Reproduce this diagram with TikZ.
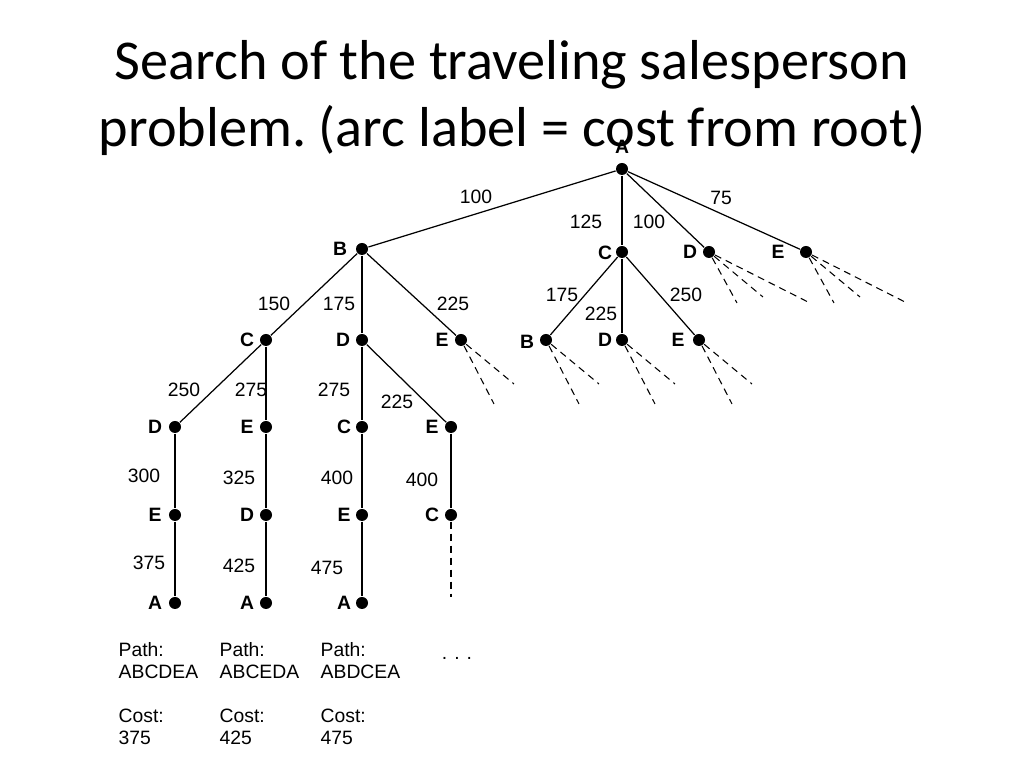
\documentclass[tikz,border=0pt]{standalone}
\usepackage{fontspec}
\setmainfont{Liberation Sans}
\newfontfamily\titlefont{Carlito}
\frenchspacing
\begin{document}
\begin{tikzpicture}[x=0.01cm,y=-0.01cm,
  dot/.style={circle,fill=black,inner sep=0pt,minimum size=0.12cm},
  lbl/.style={font=\fontsize{5.5pt}{6.5pt}\selectfont,inner sep=0pt},
  nl/.style={font=\fontsize{5.5pt}{6.5pt}\selectfont\bfseries,inner sep=0pt},
  dsh/.style={dashed,dash pattern=on 0.07cm off 0.05cm,line width=0.3pt},
  edge/.style={line width=0.35pt}]
\useasboundingbox (0,0) rectangle (1024,768);
\node[font=\titlefont\fontsize{16pt}{18pt}\selectfont] (t1) at (512,65) {Search of the traveling salesperson};
\node[font=\titlefont\fontsize{16pt}{18pt}\selectfont] (t2) at (512,130) {problem. (arc label = cost from root)};
% nodes
\node[dot] (A) at (622,169) {};
\node[dot] (B) at (362,249) {};
\node[dot] (C1) at (622,252) {};
\node[dot] (D1) at (709,252) {};
\node[dot] (E1) at (806,252) {};
\node[dot] (BC) at (266,340) {};
\node[dot] (BD) at (362,340) {};
\node[dot] (BE) at (461,340) {};
\node[dot] (CB) at (546,340) {};
\node[dot] (CD) at (622,340) {};
\node[dot] (CE) at (699,340) {};
\node[dot] (BCD) at (175,427) {};
\node[dot] (BCE) at (266,427) {};
\node[dot] (BDC) at (362,427) {};
\node[dot] (BDE) at (451,427) {};
\node[dot] (BCDE) at (175,515) {};
\node[dot] (BCED) at (266,515) {};
\node[dot] (BDCE) at (362,515) {};
\node[dot] (BDEC) at (451,515) {};
\node[dot] (A1) at (175,603) {};
\node[dot] (A2) at (266,603) {};
\node[dot] (A3) at (362,603) {};
% node labels
\node[nl] (lA) at (622,147) {A};
\node[nl] (lB) at (340,249) {B};
\node[nl] (lC1) at (605,253) {C};
\node[nl] (lD1) at (690,252) {D};
\node[nl] (lE1) at (778,252) {E};
\node[nl] (lBC) at (247,340) {C};
\node[nl] (lBD) at (343,340) {D};
\node[nl] (lBE) at (442,340) {E};
\node[nl] (lCB) at (527,342) {B};
\node[nl] (lCD) at (605,340) {D};
\node[nl] (lCE) at (678,340) {E};
\node[nl] (l3a) at (155,427) {D};
\node[nl] (l3b) at (247,427) {E};
\node[nl] (l3c) at (344,427) {C};
\node[nl] (l3d) at (432,427) {E};
\node[nl] (l4a) at (155,515) {E};
\node[nl] (l4b) at (247,515) {D};
\node[nl] (l4c) at (344,515) {E};
\node[nl] (l4d) at (432,515) {C};
\node[nl] (l5a) at (155,603) {A};
\node[nl] (l5b) at (247,603) {A};
\node[nl] (l5c) at (344,603) {A};
% edges
\draw[edge] (A) -- (B); \draw[edge] (A) -- (C1); \draw[edge] (A) -- (D1); \draw[edge] (A) -- (E1);
\draw[edge] (B) -- (BC); \draw[edge] (B) -- (BD); \draw[edge] (B) -- (BE);
\draw[edge] (C1) -- (CB); \draw[edge] (C1) -- (CD); \draw[edge] (C1) -- (CE);
\draw[edge] (BC) -- (BCD); \draw[edge] (BC) -- (BCE); \draw[edge] (BD) -- (BDC); \draw[edge] (BD) -- (BDE);
\draw[edge] (BCD) -- (BCDE); \draw[edge] (BCE) -- (BCED); \draw[edge] (BDC) -- (BDCE); \draw[edge] (BDE) -- (BDEC);
\draw[edge] (BCDE) -- (A1); \draw[edge] (BCED) -- (A2); \draw[edge] (BDCE) -- (A3);
% dashed stubs
\coordinate (x1) at (451,597);
\draw[dsh] (BDEC) -- (x1);
\foreach \n in {D1,E1}{
  \draw[dsh] (\n) -- ++(28,51); \draw[dsh] (\n) -- ++(54,45); \draw[dsh] (\n) -- ++(99,50);}
\foreach \n in {BE,CB,CD,CE}{
  \draw[dsh] (\n) -- ++(33,64); \draw[dsh] (\n) -- ++(53,44);}
% arc labels
\foreach \t/\x/\y in {100/476/197,125/586/222,100/649/222,75/721/198,
  150/274/304,175/339/304,225/453/304,175/562/295,225/601/314,250/686/295,
  250/184/390,275/251/390,275/334/390,225/397/402,
  300/144/476,325/239/478,400/337/478,400/422/480,
  375/149/563,425/239/566,475/327/568}
  \node[lbl] at (\x,\y) {\t};
% bottom texts
\foreach \x/\p/\c in {118/ABCDEA/375,219/ABCEDA/425,320/ABDCEA/475}{
  \node[lbl,anchor=west] at (\x,650) {Path:};
  \node[lbl,anchor=west] at (\x,672) {\p};
  \node[lbl,anchor=west] at (\x,716) {Cost:};
  \node[lbl,anchor=west] at (\x,738) {\c};}
\node[lbl] (dots) at (457,658) {.\hspace{0.07cm}.\hspace{0.07cm}.};
\end{tikzpicture}
\end{document}
